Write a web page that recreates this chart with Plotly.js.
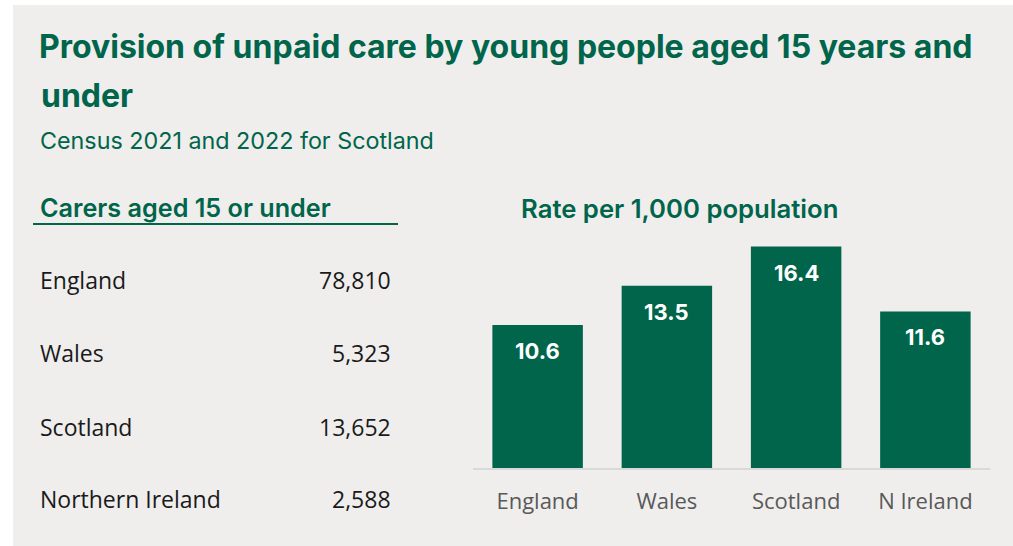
<!DOCTYPE html>
<html><head><meta charset="utf-8">
<script src="https://cdn.plot.ly/plotly-3.0.1.min.js"></script>
<style>html,body{margin:0;padding:0;background:#ffffff;}#chart{position:absolute;left:13px;top:5px;width:1000px;height:541px;}</style>
</head><body><div id="chart"></div>
<script>
const countries = ["England", "Wales", "Scotland", "N Ireland"];
const rates = [10.6, 13.5, 16.4, 11.6];
const tableNames = ["England", "Wales", "Scotland", "Northern Ireland"];
const tableValues = ["78,810", "5,323", "13,652", "2,588"];
const titleLine1 = "Provision of unpaid care by young people aged 15 years and";
const titleLine2 = "under";
const subtitle = "Census 2021 and 2022 for Scotland";
const tableHeading = "Carers aged 15 or under";
const chartHeading = "Rate per 1,000 population";

const GREEN = "#00654a";
const BG = "#efeeed";
const W = 1000, H = 541, L = 460, R = 23, T = 230, B = 78;
const PW = W - L - R, PH = H - T - B;
const fx = x => (x - 13 - L) / PW;
const fy = y => (H - B - (y - 5)) / PH;
const headFont = "Inter, Lato, sans-serif";
const bodyFont = "'Open Sans', 'Noto Sans', sans-serif";

const annotations = [];
function ann(text, x, y, opts) {
  annotations.push(Object.assign({text: text, xref: "paper", yref: "paper", x: fx(x), y: fy(y),
    showarrow: false, xanchor: "left", yanchor: "middle"}, opts));
}
ann(titleLine2, 39, 96, {font: {family: headFont, size: 32, color: GREEN, weight: 700}});
ann(subtitle, 38, 140, {font: {family: headFont, size: 23.3, color: GREEN}});
ann(tableHeading, 38, 208, {font: {family: headFont, size: 25.2, color: GREEN, weight: 600}});
ann(chartHeading, 679, 208, {xanchor: "center", font: {family: headFont, size: 25.7, color: GREEN, weight: 600}});
const rowY = [280, 353, 427, 499];
tableNames.forEach((n, i) => {
  ann(n, 38, rowY[i], {font: {family: bodyFont, size: 23, color: "#1a1a1a"}});
  ann(tableValues[i], 393, rowY[i], {xanchor: "right", font: {family: bodyFont, size: 23, color: "#1a1a1a"}});
});
// bar value labels from data
countries.forEach((c, i) => {
  annotations.push({x: c, y: rates[i], xref: "x", yref: "y", text: rates[i].toFixed(1), showarrow: false,
    yanchor: "top", yshift: -11, font: {family: headFont, size: 22, color: "#ffffff", weight: 700}});
});

const data = [{
  type: "bar", x: countries, y: rates, marker: {color: GREEN, line: {width: 0}},
  hoverinfo: "x+y"
}];

const layout = {
  width: W, height: H,
  margin: {l: L, r: R, t: T, b: B, pad: 0},
  paper_bgcolor: BG, plot_bgcolor: BG,
  title: {text: titleLine1, x: (39 - 13) / W, xanchor: "left", xref: "container",
    y: 1 - (47 - 5) / H, yanchor: "middle", yref: "container",
    font: {family: headFont, size: 32, color: GREEN, weight: 700}},
  bargap: 0.30,
  showlegend: false,
  xaxis: {showline: true, linecolor: "#d9d9d9", linewidth: 2, ticks: "outside", ticklen: 13,
    tickcolor: "rgba(0,0,0,0)", tickfont: {family: bodyFont, size: 22, color: "#595959"},
    showgrid: false, zeroline: false, fixedrange: true},
  yaxis: {range: [0, PH / 13.5], visible: false, showgrid: false, zeroline: false, fixedrange: true},
  annotations: annotations,
  shapes: [{type: "line", xref: "paper", yref: "paper", x0: fx(33), x1: fx(398), y0: fy(224), y1: fy(224),
    line: {color: GREEN, width: 2}}]
};
Plotly.newPlot("chart", data, layout, {displayModeBar: false, staticPlot: true});
</script></body></html>
